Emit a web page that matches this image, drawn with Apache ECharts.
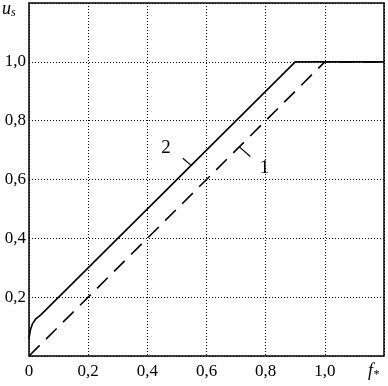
<!DOCTYPE html>
<html><head><meta charset="utf-8">
<script src="https://cdn.jsdelivr.net/npm/echarts@6/dist/echarts.min.js"></script>
<style>html,body{margin:0;padding:0;background:#fff}#c{width:388px;height:386px}</style>
</head><body><div id="c"></div>
<script>
const xTicks = [0, 0.2, 0.4, 0.6, 0.8, 1.0];
const yTicks = [0.2, 0.4, 0.6, 0.8, 1.0];
const curve1 = [[0, 0], [1.0, 1.0], [1.2, 1.0]];
const curve2 = [[0, 0.06], [0.005, 0.09], [0.012, 0.11], [0.022, 0.125], [0.04, 0.14], [0.9, 1.0], [1.2, 1.0]];
const leader2 = [[0.52, 0.672], [0.548, 0.648]];
const leader1 = [[0.711, 0.711], [0.748, 0.678]];
const labels = [{name: '2', x: 0.463, y: 0.708}, {name: '1', x: 0.796, y: 0.64}];

const fmt = v => (Math.abs(v - 1.2) < 1e-6) ? '' : v.toFixed(1).replace('.', ',');
const font = 'Liberation Serif';
const chart = echarts.init(document.getElementById('c'));
chart.setOption({
  animation: false,
  grid: {left: 29, right: 4, top: 3, bottom: 30, show: true, borderColor: '#000', borderWidth: 1.5},
  xAxis: {type: 'value', min: 0, max: 1.2, interval: 0.2,
    axisLine: {show: false}, axisTick: {show: false},
    axisLabel: {formatter: v => xTicks.some(t => Math.abs(t - v) < 1e-6) ? (v === 0 ? '0' : fmt(v)) : '', color: '#000', fontFamily: font, fontSize: 17, margin: 7},
    splitLine: {lineStyle: {color: '#000', type: [1, 2], width: 1}}},
  yAxis: {type: 'value', min: 0, max: 1.2, interval: 0.2,
    axisLine: {show: false}, axisTick: {show: false},
    axisLabel: {formatter: v => yTicks.some(t => Math.abs(t - v) < 1e-6) ? fmt(v) : '', color: '#000', fontFamily: font, fontSize: 17, margin: 3},
    splitLine: {lineStyle: {color: '#000', type: [1, 2], width: 1}}},
  series: [
    {type: 'line', data: curve1, symbol: 'none', lineStyle: {color: '#000', width: 1.6, type: [15, 9]}},
    {type: 'line', data: curve2, symbol: 'none', lineStyle: {color: '#000', width: 1.6}},
    {type: 'line', data: leader2, symbol: 'none', lineStyle: {color: '#000', width: 1.2}},
    {type: 'line', data: leader1, symbol: 'none', lineStyle: {color: '#000', width: 1.2}},
    {type: 'scatter', data: labels.map(l => ({name: l.name, value: [l.x, l.y]})), symbolSize: 0,
      itemStyle: {opacity: 1, color: '#000'},
      label: {show: true, formatter: p => p.name, color: '#000', opacity: 1, fontFamily: font, fontSize: 19, position: 'inside'}}
  ],
  graphic: [
    {type: 'text', left: 2, top: 0, style: {text: '{u|u}{s|s}', rich: {u: {fontFamily: font, fontStyle: 'italic', fontSize: 18, fill: '#000'}, s: {fontFamily: font, fontStyle: 'italic', fontSize: 12, fill: '#000', verticalAlign: 'bottom', padding: [8, 0, 0, 0]}}}},
    {type: 'text', left: 368, top: 362, style: {text: '{f|f}{s|*}', rich: {f: {fontFamily: font, fontStyle: 'italic', fontSize: 18, fill: '#000'}, s: {fontFamily: font, fontStyle: 'italic', fontSize: 12, fill: '#000', padding: [8, 0, 0, 0]}}}}
  ]
});
</script></body></html>
